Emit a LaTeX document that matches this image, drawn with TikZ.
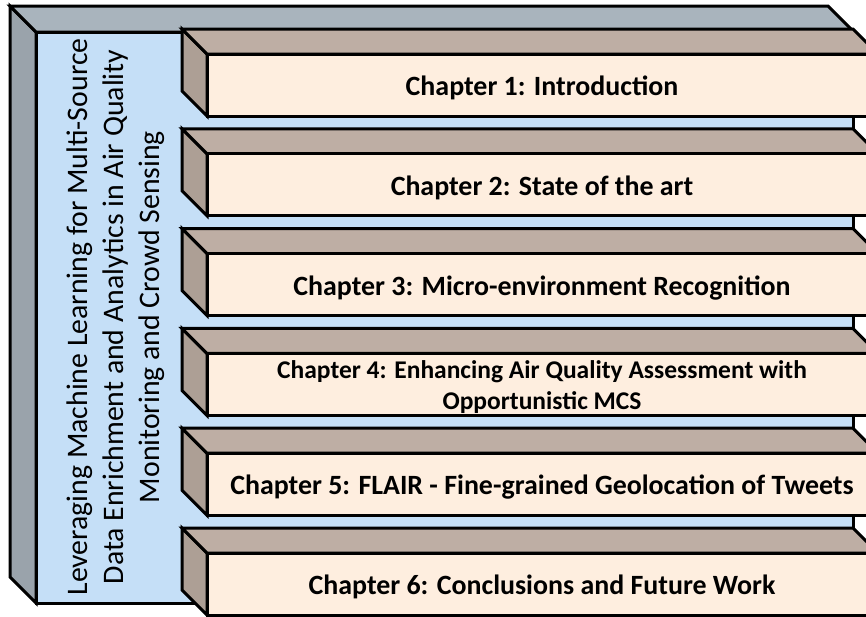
\documentclass[tikz,border=0pt]{standalone}
\usepackage{fontspec}
\setmainfont{Carlito}
\definecolor{outerTop}{HTML}{A9B4BD}
\definecolor{outerLeft}{HTML}{9AA3AB}
\definecolor{frontBlue}{HTML}{C5DFF7}
\definecolor{barTop}{HTML}{BEAEA4}
\definecolor{barLeft}{HTML}{AD9F95}
\definecolor{barFront}{HTML}{FEEEDF}
\tikzset{
  edge3d/.style={draw=black, line width=3pt},
  chaptxt/.style={font=\fontsize{27.9}{32}\selectfont\bfseries, align=center, inner sep=0pt},
  chaptxtsmall/.style={font=\fontsize{25.5}{31}\selectfont\bfseries, align=center, inner sep=0pt},
  titletxt/.style={font=\fontsize{29.8}{36}\selectfont, align=center, rotate=90, inner sep=0pt}
}
\begin{document}
\begin{tikzpicture}[x=1pt,y=-1pt]
\useasboundingbox (0,0) rectangle (866,616);
\clip (0,0) rectangle (866,616);
% outer box
\filldraw[edge3d, fill=outerLeft] (10,6) -- (36,32) -- (36,603) -- (10,577) -- cycle;
\filldraw[edge3d, fill=outerTop] (10,6) -- (828,6) -- (854,32) -- (36,32) -- cycle;
\filldraw[edge3d, fill=frontBlue] (36,32) rectangle (853,603);
\node[titletxt] (title) at (116,317) {Leveraging Machine Learning for Multi-Source\\Data Enrichment and Analytics in Air Quality\\Monitoring and Crowd Sensing};
% bars
\foreach \i/\txt/\sty in {0/{Chapter 1: Introduction}/chaptxt,
                          1/{Chapter 2: State of the art}/chaptxt,
                          2/{Chapter 3: Micro-environment Recognition}/chaptxt,
                          3/{Chapter 4: Enhancing Air Quality Assessment with\\Opportunistic MCS}/chaptxtsmall,
                          4/{Chapter 5: FLAIR - Fine-grained Geolocation of Tweets}/chaptxt,
                          5/{Chapter 6: Conclusions and Future Work}/chaptxt} {
  \pgfmathsetmacro{\b}{29+99.8*\i}
  \filldraw[edge3d, fill=barLeft] (182,\b) -- (207,\b+25) -- (207,\b+87) -- (182,\b+62) -- cycle;
  \filldraw[edge3d, fill=barTop] (182,\b) -- (853,\b) -- (878,\b+25) -- (207,\b+25) -- cycle;
  \filldraw[edge3d, fill=barFront] (207,\b+25) rectangle (878,\b+87);
  \node[\sty] (chap\i) at (542,\b+59) {\txt};
}
\end{tikzpicture}
\end{document}
